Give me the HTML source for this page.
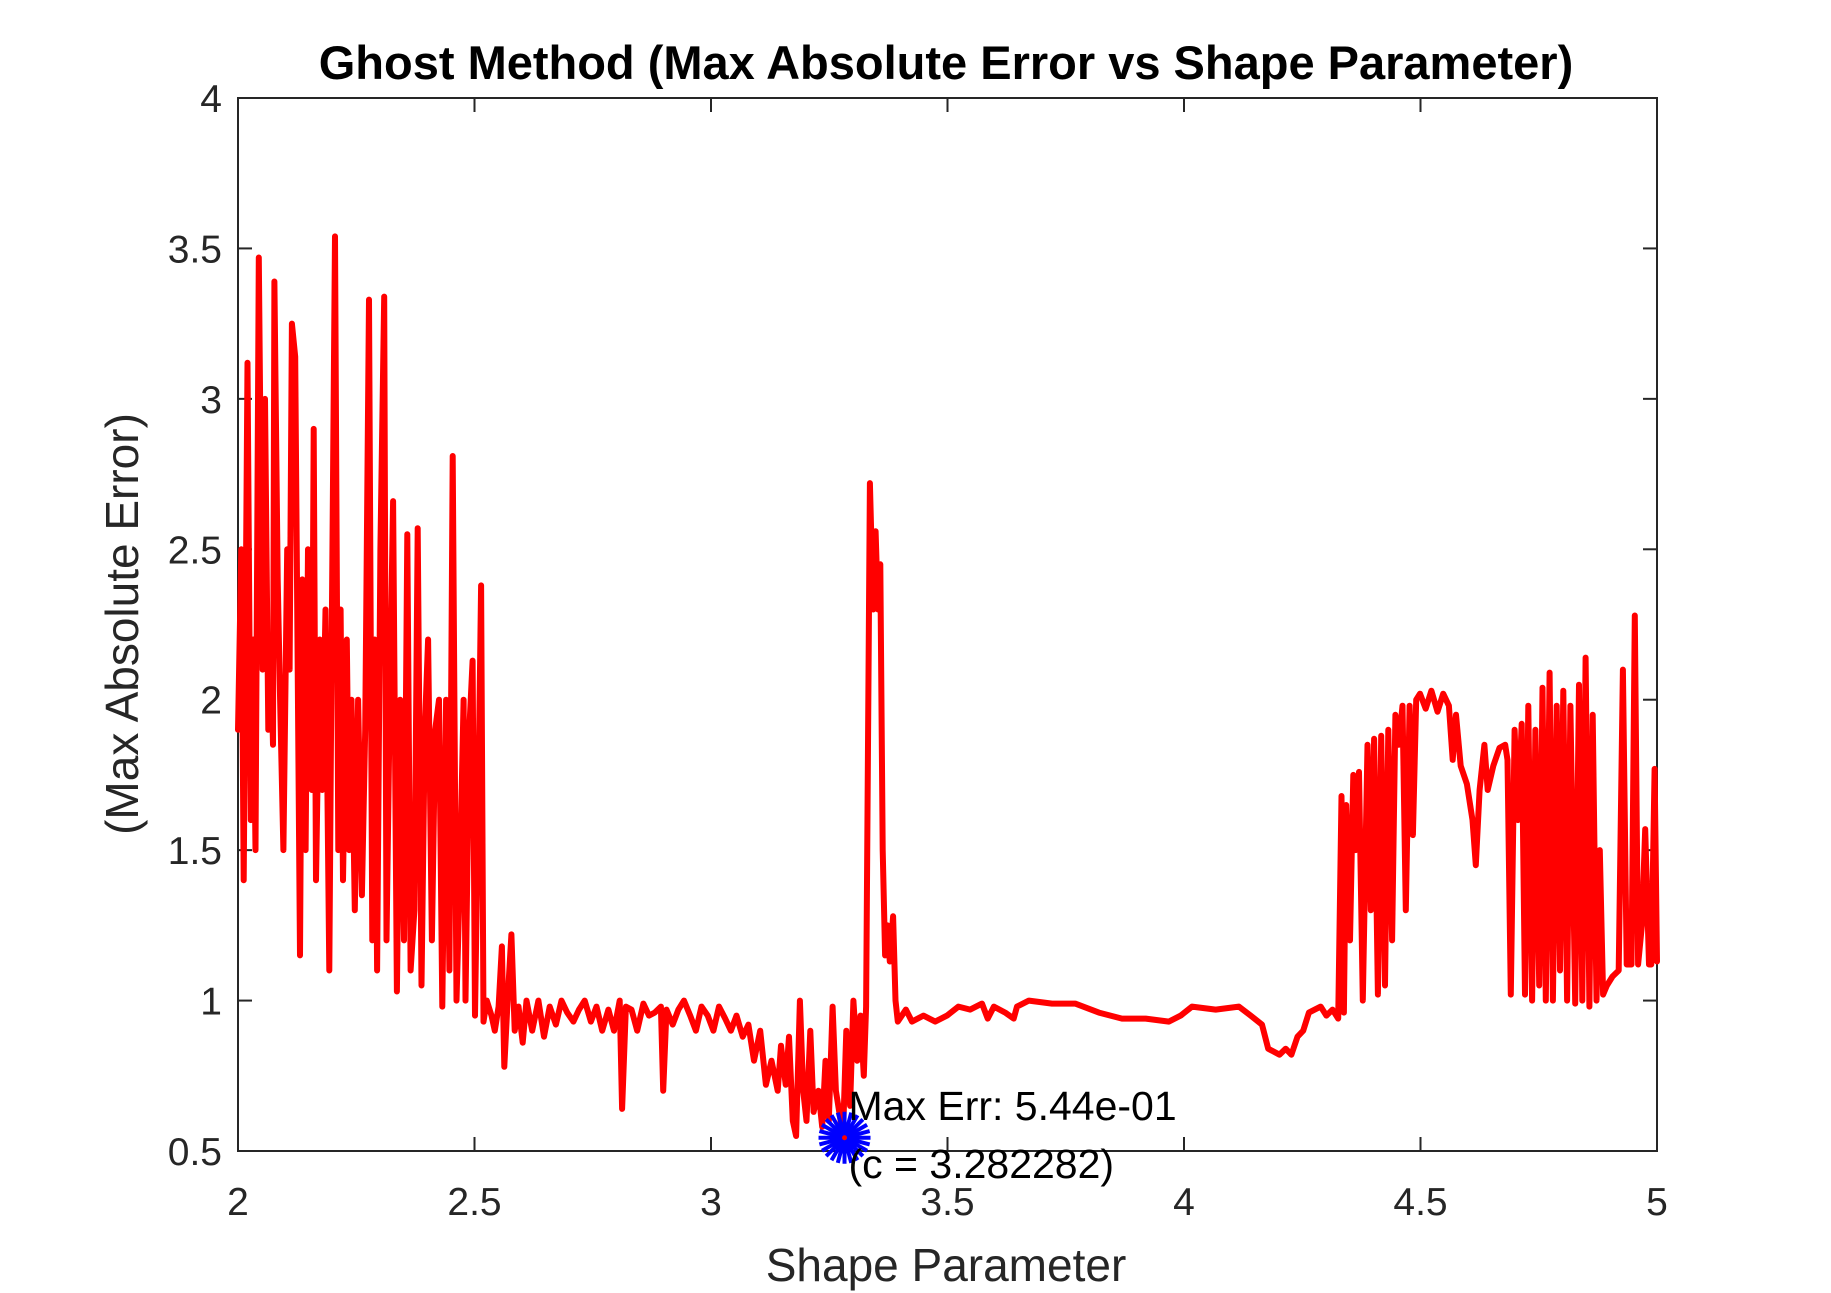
<!DOCTYPE html>
<html><head><meta charset="utf-8"><style>
html,body{margin:0;padding:0;background:#fff;}
svg{display:block;font-family:"Liberation Sans","DejaVu Sans",sans-serif;}
</style></head><body>
<svg id="chart" width="1831" height="1293" viewBox="0 0 1831 1293" xmlns="http://www.w3.org/2000/svg">
<rect x="0" y="0" width="1831" height="1293" fill="#fff"/>
<text x="946" y="79" text-anchor="middle" font-size="47" font-weight="bold" fill="#000">Ghost Method (Max Absolute Error vs Shape Parameter)</text>
<text x="946" y="1281" text-anchor="middle" font-size="46" fill="#262626">Shape Parameter</text>
<text x="0" y="0" transform="translate(138,624) rotate(-90)" text-anchor="middle" font-size="46" fill="#262626">(Max  Absolute Error)</text>
<g id="grid"></g>
<g id="series"></g>
<g id="marker"></g>
</svg>
<script>
const xTicks=[2,2.5,3,3.5,4,4.5,5];
const yTicks=[0.5,1,1.5,2,2.5,3,3.5,4];
const xTickLabels=["2","2.5","3","3.5","4","4.5","5"];
const yTickLabels=["0.5","1","1.5","2","2.5","3","3.5","4"];
const seriesX=[2.000,2.007,2.012,2.020,2.027,2.032,2.037,2.044,2.052,2.057,2.064,2.069,2.074,2.077,2.084,2.089,2.096,2.104,2.109,2.114,2.121,2.131,2.136,2.143,2.148,2.156,2.160,2.165,2.173,2.178,2.185,2.193,2.198,2.205,2.212,2.217,2.222,2.230,2.235,2.240,2.247,2.254,2.262,2.269,2.277,2.284,2.289,2.294,2.301,2.309,2.314,2.321,2.328,2.336,2.343,2.351,2.358,2.365,2.373,2.380,2.388,2.395,2.402,2.410,2.417,2.425,2.432,2.440,2.447,2.454,2.462,2.469,2.477,2.481,2.489,2.496,2.501,2.509,2.514,2.519,2.526,2.536,2.543,2.551,2.558,2.563,2.570,2.578,2.585,2.593,2.602,2.610,2.622,2.635,2.647,2.659,2.672,2.684,2.696,2.709,2.721,2.733,2.746,2.758,2.770,2.783,2.795,2.807,2.812,2.820,2.832,2.844,2.857,2.869,2.881,2.894,2.899,2.906,2.919,2.931,2.943,2.956,2.968,2.980,2.993,3.005,3.017,3.030,3.042,3.054,3.067,3.079,3.091,3.104,3.116,3.128,3.141,3.148,3.158,3.165,3.173,3.180,3.188,3.195,3.202,3.210,3.217,3.227,3.235,3.242,3.249,3.257,3.264,3.272,3.279,3.286,3.294,3.301,3.309,3.316,3.323,3.328,3.336,3.343,3.348,3.353,3.358,3.363,3.368,3.373,3.378,3.385,3.390,3.395,3.412,3.425,3.449,3.474,3.499,3.523,3.548,3.573,3.585,3.598,3.622,3.640,3.647,3.672,3.721,3.770,3.820,3.869,3.919,3.968,3.993,4.017,4.067,4.116,4.141,4.165,4.178,4.202,4.215,4.227,4.240,4.252,4.264,4.289,4.301,4.314,4.326,4.333,4.338,4.343,4.351,4.358,4.363,4.370,4.378,4.388,4.395,4.402,4.410,4.417,4.425,4.432,4.440,4.447,4.454,4.462,4.469,4.477,4.484,4.491,4.499,4.511,4.523,4.536,4.548,4.560,4.568,4.575,4.585,4.598,4.610,4.617,4.625,4.635,4.642,4.654,4.667,4.679,4.684,4.691,4.699,4.706,4.714,4.721,4.728,4.736,4.743,4.751,4.758,4.765,4.773,4.780,4.788,4.795,4.802,4.810,4.817,4.827,4.835,4.842,4.849,4.857,4.864,4.872,4.879,4.886,4.894,4.906,4.919,4.928,4.936,4.946,4.953,4.960,4.968,4.975,4.983,4.988,4.995,5.000];
const seriesY=[1.9,2.5,1.4,3.12,1.6,2.2,1.5,3.47,2.1,3.0,1.9,2.2,1.85,3.39,2.4,2.0,1.5,2.5,2.1,3.25,3.14,1.15,2.4,1.5,2.5,1.7,2.9,1.4,2.2,1.7,2.3,1.1,2.2,3.54,1.5,2.3,1.4,2.2,1.5,2.0,1.3,2.0,1.35,1.9,3.33,1.2,2.2,1.1,2.5,3.34,1.2,2.0,2.66,1.03,2.0,1.2,2.55,1.1,1.3,2.57,1.05,1.9,2.2,1.2,1.9,2.0,0.98,2.0,1.1,2.81,1.0,1.4,2.0,1.0,1.9,2.13,0.95,1.8,2.38,0.93,1.0,0.95,0.9,0.98,1.18,0.78,1.0,1.22,0.9,0.98,0.86,1.0,0.9,1.0,0.88,0.98,0.92,1.0,0.96,0.93,0.97,1.0,0.93,0.98,0.9,0.97,0.9,1.0,0.64,0.98,0.97,0.9,0.99,0.95,0.96,0.98,0.7,0.97,0.92,0.97,1.0,0.95,0.9,0.98,0.95,0.9,0.98,0.94,0.9,0.95,0.88,0.92,0.8,0.9,0.72,0.8,0.7,0.85,0.72,0.88,0.6,0.55,1.0,0.7,0.6,0.9,0.63,0.7,0.58,0.8,0.6,0.98,0.7,0.62,0.55,0.9,0.65,1.0,0.8,0.95,0.75,0.98,2.72,2.3,2.56,2.3,2.45,1.5,1.15,1.25,1.13,1.28,1.0,0.93,0.97,0.93,0.95,0.93,0.95,0.98,0.97,0.99,0.94,0.98,0.96,0.94,0.98,1.0,0.99,0.99,0.96,0.94,0.94,0.93,0.95,0.98,0.97,0.98,0.95,0.92,0.84,0.82,0.84,0.82,0.88,0.9,0.96,0.98,0.95,0.97,0.94,1.68,0.96,1.65,1.2,1.75,1.5,1.76,1.0,1.85,1.3,1.87,1.02,1.88,1.05,1.9,1.2,1.95,1.85,1.98,1.3,1.98,1.55,2.0,2.02,1.97,2.03,1.96,2.02,1.98,1.8,1.95,1.78,1.72,1.6,1.45,1.7,1.85,1.7,1.78,1.84,1.85,1.8,1.02,1.9,1.6,1.92,1.02,1.98,1.0,1.9,1.05,2.04,1.0,2.09,1.0,1.98,1.1,2.03,1.0,1.98,0.99,2.05,1.0,2.14,0.98,1.95,1.0,1.5,1.02,1.05,1.08,1.1,2.1,1.12,1.12,2.28,1.12,1.25,1.57,1.12,1.12,1.77,1.13];
const bestX=[3.282282];
const bestY=[0.544];
const annotLines=["Max Err: 5.44e-01","(c = 3.282282)"];

const L=238,R=1657,T=98,B=1151;
const xMin=2,xMax=5,yMin=0.5,yMax=4;
const sx=v=>L+(v-xMin)/(xMax-xMin)*(R-L);
const sy=v=>B-(v-yMin)/(yMax-yMin)*(B-T);
const NS="http://www.w3.org/2000/svg";
function mk(tag,attrs,parent){const e=document.createElementNS(NS,tag);for(const k in attrs)e.setAttribute(k,attrs[k]);parent.appendChild(e);return e;}
const grid=document.getElementById('grid');
const ax=mk('rect',{x:L,y:T,width:R-L,height:B-T,fill:'none',stroke:'#262626','stroke-width':2},grid);


xTicks.forEach((t,i)=>{
  const x=sx(t);
  const a=mk('line',{x1:x,x2:x,y1:B,y2:B-14,stroke:'#262626','stroke-width':2},grid);
  
  
  const b=mk('line',{x1:x,x2:x,y1:T,y2:T+14,stroke:'#262626','stroke-width':2},grid);
  
  
  const tx=mk('text',{x:x,y:1215,'text-anchor':'middle','font-size':39,fill:'#262626'},grid);
  tx.textContent=xTickLabels[i];
  
  
});
yTicks.forEach((t,i)=>{
  const y=sy(t);
  const a=mk('line',{x1:L,x2:L+14,y1:y,y2:y,stroke:'#262626','stroke-width':2},grid);
  
  
  const b=mk('line',{x1:R,x2:R-14,y1:y,y2:y,stroke:'#262626','stroke-width':2},grid);
  
  
  const tx=mk('text',{x:222,y:y+14,'text-anchor':'end','font-size':39,fill:'#262626'},grid);
  tx.textContent=yTickLabels[i];
  
  
});
const series=document.getElementById('series');
const d=seriesX.map((v,i)=>(i?'L':'M')+sx(v).toFixed(1)+','+sy(seriesY[i]).toFixed(1)).join(' ');
const p=mk('path',{d:d,fill:'none',stroke:'#ff0000','stroke-width':6,'stroke-linejoin':'round','stroke-linecap':'round'},series);


const mg=document.getElementById('marker');
const cx=sx(bestX[0]),cy=sy(bestY[0]);
for(let k=0;k<12;k++){
  const a=k*Math.PI/12;
  const ln=mk('line',{x1:cx-26*Math.cos(a),y1:cy-26*Math.sin(a),x2:cx+26*Math.cos(a),y2:cy+26*Math.sin(a),stroke:'#0000ff','stroke-width':4},mg);
  
  
}
const dot=mk('circle',{cx:cx,cy:cy,r:2.5,fill:'#ff0000'},mg);


annotLines.forEach((s,i)=>{
  const t=mk('text',{x:cx+4,y:cy-18+i*58,'font-size':41,fill:'#000'},mg);
  t.textContent=s;
  
  
});
</script>
</body></html>
